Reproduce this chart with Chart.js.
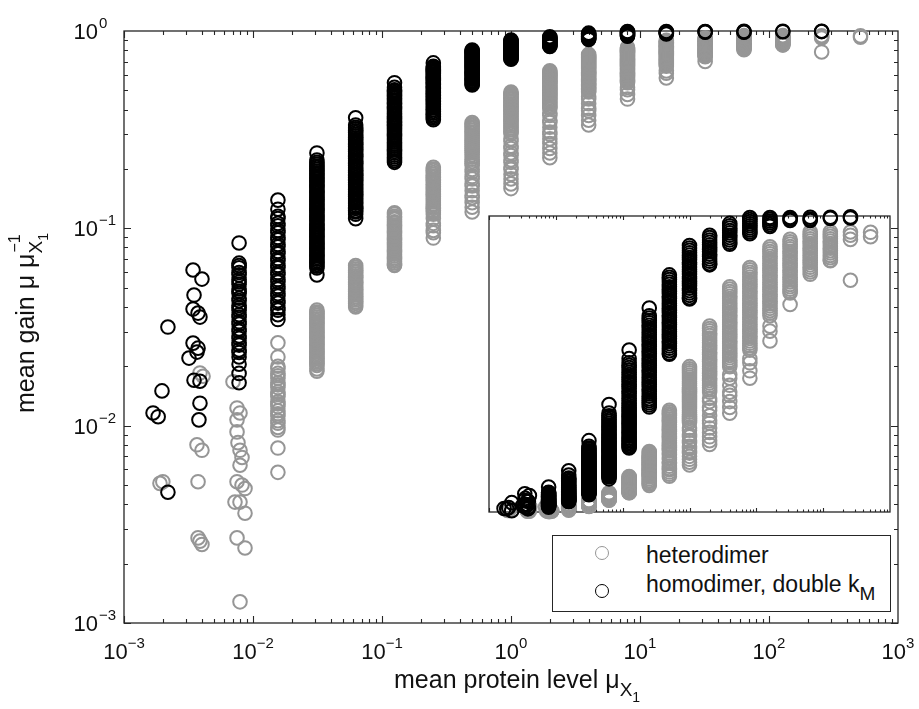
<!DOCTYPE html>
<html>
<head>
<meta charset="utf-8">
<script src="https://cdn.jsdelivr.net/npm/chart.js@4.4.0/dist/chart.umd.min.js"></script>
<style>
  body { margin: 0; background: #fff; }
  #wrap { position: relative; width: 919px; height: 709px; overflow: hidden; background: #fff;
          font-family: "Liberation Sans", Arial, sans-serif; color: #111; }
  canvas { position: absolute; left: 0; top: 0; }
  .title { position: absolute; font-size: 25px; line-height: 25px; white-space: nowrap; }
  #ytitle { left: 13px; top: 413px; transform-origin: 0 0; transform: rotate(-90deg); }
  #xtitle { left: 394px; top: 667px; }
  .ss { position: relative; display: inline-block; }
  .sb { font-size: 19px; position: relative; top: 8px; }
  .sb2 { font-size: 14px; position: relative; top: 6px; }
  .sp { font-size: 16px; position: absolute; left: 1px; top: -11px; }
  #legend { position: absolute; left: 552px; top: 535px; width: 337px; height: 75px;
            border: 1.3px solid #262626; background: #fff; font-size: 23px; }
  .mk { position: absolute; width: 12px; height: 12px; border-radius: 50%; border: 1.6px solid; }
  .lt { position: absolute; left: 93px; white-space: nowrap; line-height: 23px; }
</style>
</head>
<body>
<div id="wrap">
  <canvas id="mainChart" width="919" height="709"></canvas>
  <canvas id="insetChart" width="919" height="709"></canvas>
  <div class="title" id="ytitle">mean gain μ μ<span class="ss"><span class="sb">X<span class="sb2">1</span></span><span class="sp">−1</span></span></div>
  <div class="title" id="xtitle">mean protein level μ<span class="sb">X<span class="sb2">1</span></span></div>
  <div id="legend">
    <div class="mk" style="left:42px; top:10px; border-color:#969696"></div>
    <div class="lt" style="top:8px">heterodimer</div>
    <div class="mk" style="left:42px; top:48px; border-color:#000"></div>
    <div class="lt" style="top:37px">homodimer, double k<span style="font-size:19px; position:relative; top:8px">M</span></div>
  </div>
</div>
<script>
// nominal protein levels (each one doubles the previous)
const levels = [0.00195, 0.0039, 0.0078, 0.0156, 0.0313, 0.0625, 0.125, 0.25, 0.5, 1, 2, 4, 8, 16, 32, 64, 128, 256, 512];

// mean gain, homodimer with double kM, one list per level
const homoGain = [
  [0.0316, 0.0150, 0.0116, 0.0111, 0.0046],
  [0.0615, 0.0553, 0.0459, 0.0390, 0.0372, 0.0355, 0.0262, 0.0247, 0.0236, 0.0220, 0.0170, 0.0168, 0.0130, 0.0107],
  [0.0843, 0.0666, 0.0648, 0.0631, 0.0597, 0.0581, 0.0550, 0.0535, 0.0521, 0.0493, 0.0480, 0.0467, 0.0442, 0.0430, 0.0407, 0.0396, 0.0385,
   0.0365, 0.0355, 0.0336, 0.0327, 0.0309, 0.0301, 0.0285, 0.0277, 0.0263, 0.0256, 0.0242, 0.0235, 0.0223, 0.0205, 0.0184, 0.0165],
  [0.139, 0.125, 0.115, 0.112, 0.106, 0.103, 0.0976, 0.0950, 0.0899, 0.0875, 0.0829, 0.0806, 0.0763, 0.0743, 0.0703, 0.0684, 0.0648,
   0.0631, 0.0597, 0.0581, 0.0550, 0.0535, 0.0507, 0.0493, 0.0467, 0.0454, 0.0430, 0.0418, 0.0396, 0.0385, 0.0365, 0.0345],
  [0.241, 0.222, 0.216, 0.212, 0.207, 0.203, 0.199, 0.195, 0.191, 0.188, 0.184, 0.180, 0.177, 0.173, 0.170, 0.166, 0.163, 0.160, 0.156,
   0.153, 0.150, 0.147, 0.144, 0.141, 0.139, 0.136, 0.133, 0.130, 0.128, 0.125, 0.123, 0.120, 0.118, 0.115, 0.113, 0.111, 0.109, 0.106,
   0.104, 0.102, 0.100, 0.0983, 0.0963, 0.0944, 0.0925, 0.0906, 0.0888, 0.0870, 0.0853, 0.0836, 0.0819, 0.0803, 0.0787, 0.0771, 0.0756,
   0.0740, 0.0726, 0.0711, 0.0697, 0.0683, 0.0669, 0.0656, 0.0643, 0.0630, 0.0581],
  [0.363, 0.334, 0.325, 0.319, 0.312, 0.306, 0.300, 0.294, 0.288, 0.282, 0.277, 0.271, 0.266, 0.260, 0.255, 0.250, 0.245, 0.240, 0.235,
   0.231, 0.226, 0.221, 0.217, 0.213, 0.208, 0.204, 0.200, 0.196, 0.192, 0.188, 0.185, 0.181, 0.177, 0.174, 0.170, 0.167, 0.164, 0.160,
   0.157, 0.154, 0.151, 0.148, 0.145, 0.142, 0.139, 0.136, 0.134, 0.131, 0.128, 0.126, 0.123, 0.121, 0.118, 0.112],
  [0.547, 0.518, 0.504, 0.496, 0.488, 0.480, 0.472, 0.464, 0.456, 0.448, 0.440, 0.432, 0.424, 0.416, 0.408, 0.400, 0.392, 0.384, 0.376,
   0.368, 0.360, 0.352, 0.346, 0.340, 0.334, 0.328, 0.322, 0.316, 0.310, 0.304, 0.298, 0.292, 0.286, 0.280, 0.274, 0.268, 0.262, 0.256,
   0.250, 0.245, 0.240, 0.235, 0.230, 0.225, 0.220, 0.216],
  [0.689, 0.663, 0.655, 0.647, 0.639, 0.631, 0.623, 0.615, 0.607, 0.599, 0.591, 0.583, 0.575, 0.567, 0.559, 0.551, 0.543, 0.535, 0.527,
   0.519, 0.511, 0.503, 0.495, 0.487, 0.479, 0.471, 0.463, 0.455, 0.447, 0.439, 0.431, 0.423, 0.415, 0.407, 0.399, 0.391, 0.383, 0.376,
   0.369, 0.362, 0.355],
  [0.801, 0.793, 0.785, 0.777, 0.769, 0.761, 0.753, 0.745, 0.737, 0.729, 0.721, 0.713, 0.705, 0.697, 0.689, 0.681, 0.673, 0.665, 0.657,
   0.649, 0.641, 0.633, 0.625, 0.617, 0.609, 0.601, 0.593, 0.585, 0.577, 0.569, 0.561, 0.553, 0.545, 0.537, 0.533],
  [0.900, 0.892, 0.884, 0.876, 0.868, 0.860, 0.852, 0.844, 0.836, 0.828, 0.820, 0.812, 0.804, 0.796, 0.788, 0.780, 0.772, 0.764, 0.756,
   0.748, 0.740, 0.732, 0.724, 0.720],
  [0.935, 0.927, 0.919, 0.911, 0.903, 0.895, 0.887, 0.879, 0.871, 0.863, 0.855, 0.847, 0.839, 0.835],
  [0.975, 0.967, 0.959, 0.951, 0.943, 0.935, 0.927, 0.919, 0.911, 0.905],
  [0.995, 0.988, 0.981, 0.974, 0.967, 0.960, 0.953, 0.946, 0.940],
  [0.995, 0.989, 0.983, 0.977, 0.971, 0.965],
  [0.995, 0.990, 0.985],
  [0.996, 0.990, 0.985],
  [0.996, 0.992],
  [0.997, 0.993],
  []
];

// mean gain, heterodimer, one list per level
const heteroGain = [
  [0.0051, 0.0052],
  [0.0185, 0.0178, 0.0080, 0.0075, 0.0052, 0.0027, 0.0026, 0.0025],
  [0.0167, 0.0123, 0.0116, 0.0107, 0.0093, 0.0082, 0.0075, 0.0069, 0.0063, 0.0052, 0.0050, 0.0048, 0.0041, 0.0041, 0.0036, 0.0027, 0.0024, 0.00128],
  [0.0263, 0.0223, 0.0200, 0.0194, 0.0184, 0.0179, 0.0174, 0.0165, 0.0161, 0.0156, 0.0148, 0.0144, 0.0140, 0.0132, 0.0129, 0.0125, 0.0119,
   0.0115, 0.0112, 0.0106, 0.0103, 0.0098, 0.0095, 0.0077, 0.0058],
  [0.0385, 0.0377, 0.0370, 0.0362, 0.0355, 0.0348, 0.0341, 0.0334, 0.0328, 0.0321, 0.0315, 0.0308, 0.0302, 0.0296, 0.0290, 0.0284, 0.0279,
   0.0273, 0.0268, 0.0262, 0.0257, 0.0252, 0.0247, 0.0242, 0.0237, 0.0232, 0.0228, 0.0223, 0.0219, 0.0214, 0.0210, 0.0206, 0.0202, 0.0194,
   0.0189],
  [0.0648, 0.0635, 0.0622, 0.0610, 0.0598, 0.0586, 0.0574, 0.0563, 0.0551, 0.0540, 0.0530, 0.0519, 0.0509, 0.0498, 0.0488, 0.0479, 0.0469,
   0.0460, 0.0450, 0.0441, 0.0433, 0.0424, 0.0416, 0.0407, 0.0399],
  [0.120, 0.118, 0.115, 0.113, 0.111, 0.108, 0.106, 0.104, 0.102, 0.100, 0.0980, 0.0961, 0.0941, 0.0923, 0.0904, 0.0886, 0.0868, 0.0851,
   0.0834, 0.0817, 0.0801, 0.0785, 0.0769, 0.0754, 0.0739, 0.0724, 0.0709, 0.0695, 0.0681, 0.0668, 0.0654, 0.0648],
  [0.204, 0.200, 0.196, 0.192, 0.188, 0.184, 0.181, 0.177, 0.174, 0.170, 0.167, 0.163, 0.160, 0.157, 0.154, 0.151, 0.148, 0.145, 0.142,
   0.139, 0.136, 0.133, 0.131, 0.128, 0.126, 0.123, 0.121, 0.118, 0.112, 0.106, 0.103, 0.0976, 0.0950, 0.0893],
  [0.344, 0.338, 0.332, 0.326, 0.320, 0.314, 0.308, 0.302, 0.296, 0.290, 0.284, 0.278, 0.272, 0.266, 0.260, 0.254, 0.248, 0.242, 0.236,
   0.230, 0.224, 0.218, 0.213, 0.208, 0.199, 0.193, 0.183, 0.178, 0.168, 0.164, 0.155, 0.147, 0.143, 0.135, 0.128, 0.121],
  [0.491, 0.484, 0.477, 0.470, 0.463, 0.456, 0.449, 0.442, 0.435, 0.428, 0.421, 0.414, 0.407, 0.400, 0.393, 0.386, 0.379, 0.372, 0.365,
   0.358, 0.351, 0.344, 0.337, 0.330, 0.323, 0.316, 0.309, 0.302, 0.284, 0.276, 0.261, 0.254, 0.241, 0.234, 0.222, 0.216, 0.204, 0.199,
   0.188, 0.178, 0.168, 0.159],
  [0.628, 0.620, 0.612, 0.604, 0.596, 0.588, 0.580, 0.572, 0.564, 0.556, 0.548, 0.540, 0.532, 0.524, 0.516, 0.508, 0.500, 0.492, 0.484,
   0.476, 0.468, 0.460, 0.452, 0.444, 0.436, 0.428, 0.420, 0.412, 0.405, 0.384, 0.373, 0.353, 0.344, 0.325, 0.308, 0.300, 0.284, 0.269,
   0.254, 0.241, 0.228],
  [0.761, 0.753, 0.745, 0.737, 0.729, 0.721, 0.713, 0.705, 0.697, 0.689, 0.681, 0.673, 0.665, 0.657, 0.649, 0.641, 0.633, 0.625, 0.617,
   0.609, 0.601, 0.593, 0.585, 0.577, 0.569, 0.561, 0.553, 0.545, 0.537, 0.529, 0.521, 0.513, 0.505, 0.497, 0.491, 0.464, 0.452, 0.428,
   0.405, 0.394, 0.373, 0.353, 0.334],
  [0.826, 0.818, 0.810, 0.802, 0.794, 0.786, 0.778, 0.770, 0.762, 0.754, 0.746, 0.738, 0.730, 0.722, 0.714, 0.706, 0.698, 0.690, 0.682,
   0.674, 0.666, 0.658, 0.650, 0.642, 0.634, 0.626, 0.618, 0.610, 0.602, 0.594, 0.586, 0.578, 0.570, 0.562, 0.554, 0.547, 0.518, 0.504,
   0.477, 0.452],
  [0.896, 0.888, 0.880, 0.872, 0.864, 0.856, 0.848, 0.840, 0.832, 0.824, 0.816, 0.808, 0.800, 0.792, 0.784, 0.776, 0.768, 0.760, 0.752,
   0.744, 0.736, 0.728, 0.720, 0.712, 0.704, 0.696, 0.688, 0.680, 0.672, 0.663, 0.628, 0.611, 0.578],
  [0.921, 0.913, 0.905, 0.897, 0.889, 0.881, 0.873, 0.865, 0.857, 0.849, 0.841, 0.833, 0.825, 0.817, 0.809, 0.801, 0.793, 0.785, 0.777,
   0.769, 0.761, 0.753, 0.745, 0.740, 0.701],
  [0.947, 0.939, 0.931, 0.923, 0.915, 0.907, 0.899, 0.891, 0.883, 0.875, 0.867, 0.859, 0.851, 0.843, 0.835, 0.827, 0.819, 0.811, 0.803],
  [0.947, 0.939, 0.931, 0.923, 0.915, 0.907, 0.899, 0.891, 0.883, 0.875, 0.867, 0.859, 0.851, 0.849],
  [0.946, 0.935, 0.921, 0.783],
  [0.945, 0.930]
];

// at the lowest levels the measured protein level scatters around the nominal one
const homoLevelsLow = [
  [0.00219, 0.00197, 0.00168, 0.00184, 0.00219],
  [0.00343, 0.00402, 0.00349, 0.00343, 0.00375, 0.00388, 0.00343, 0.00375, 0.00368, 0.00319, 0.00349, 0.00388, 0.00388, 0.00381]
];
const heteroLevelsLow = [
  [0.00190, 0.00200],
  [0.00388, 0.00410, 0.00368, 0.00402, 0.00375, 0.00375, 0.00388, 0.00402],
  [0.0070, 0.00752, 0.00793, 0.00752, 0.00752, 0.00765, 0.00793, 0.00822, 0.00793, 0.00752, 0.00822, 0.00867, 0.00725, 0.00793, 0.00867,
   0.00752, 0.00867, 0.00793]
];

// axis decades and their exponent labels
const xTickValues = [0.001, 0.01, 0.1, 1, 10, 100, 1000];
const xTickExps = ['−3', '−2', '−1', '0', '1', '2', '3'];
const yTickValues = [0.001, 0.01, 0.1, 1];
const yTickExps = ['−3', '−2', '−1', '0'];

const GRAY = '#969696';
const BLACK = '#000000';
const FONT = '"Liberation Sans", Arial, sans-serif';

function toPoints(gains, lowLevels) {
  const pts = [];
  gains.forEach((col, i) => {
    col.forEach((g, j) => {
      const x = lowLevels[i] ? lowLevels[i][j] : levels[i];
      pts.push({ x: x, y: g });
    });
  });
  return pts;
}

function makeDatasets() {
  return [
    {
      label: 'heterodimer',
      data: toPoints(heteroGain, heteroLevelsLow),
      borderColor: GRAY,
      backgroundColor: 'rgba(0,0,0,0)',
      pointRadius: 6.8,
      pointBorderWidth: 2,
      clip: false,
      order: 2
    },
    {
      label: 'homodimer, double kM',
      data: toPoints(homoGain, homoLevelsLow),
      borderColor: BLACK,
      backgroundColor: 'rgba(0,0,0,0)',
      pointRadius: 6.8,
      pointBorderWidth: 2,
      clip: false,
      order: 1
    }
  ];
}

// box, inward log ticks and 10^n labels, all placed with the chart scales
const logFrame = {
  id: 'logFrame',
  beforeDatasetsDraw(chart, args, opts) {
    const { ctx, chartArea: a, scales } = chart;
    ctx.save();
    ctx.strokeStyle = '#262626';
    ctx.lineWidth = 1.3;
    ctx.strokeRect(a.left, a.top, a.right - a.left, a.bottom - a.top);
    ctx.lineWidth = 1.1;
    const tick = (scale, horizontal) => {
      const lo = Math.round(Math.log10(scale.min));
      const hi = Math.round(Math.log10(scale.max));
      for (let e = lo; e < hi; e++) {
        for (let m = 1; m <= 9; m++) {
          const v = m * Math.pow(10, e);
          const p = Math.round(scale.getPixelForValue(v)) + 0.5;
          const len = m === 1 ? opts.major : opts.minor;
          ctx.beginPath();
          if (horizontal) {
            ctx.moveTo(p, a.bottom); ctx.lineTo(p, a.bottom - len);
            ctx.moveTo(p, a.top); ctx.lineTo(p, a.top + len);
          } else {
            ctx.moveTo(a.left, p); ctx.lineTo(a.left + len, p);
            ctx.moveTo(a.right, p); ctx.lineTo(a.right - len, p);
          }
          ctx.stroke();
        }
      }
    };
    tick(scales.x, true);
    if (opts.yTicks) tick(scales.y, false);
    ctx.restore();
  },
  afterDraw(chart, args, opts) {
    if (!opts.labels) return;
    const { ctx, scales } = chart;
    ctx.save();
    ctx.fillStyle = '#111';
    ctx.textBaseline = 'alphabetic';
    const big = '22px ' + FONT, small = '15px ' + FONT;
    xTickValues.forEach((v, i) => {
      const px = scales.x.getPixelForValue(v);
      ctx.font = big; const w10 = ctx.measureText('10').width;
      ctx.font = small; const we = ctx.measureText(xTickExps[i]).width;
      const start = px - (w10 + we) / 2;
      ctx.font = big; ctx.textAlign = 'left'; ctx.fillText('10', start, 659);
      ctx.font = small; ctx.fillText(xTickExps[i], start + w10, 648);
    });
    yTickValues.forEach((v, i) => {
      const py = scales.y.getPixelForValue(v);
      ctx.font = big; ctx.textAlign = 'right'; ctx.fillText('10', 98, py + 8);
      ctx.font = small; ctx.textAlign = 'left'; ctx.fillText(yTickExps[i], 99, py - 3);
    });
    ctx.restore();
  }
};

Chart.register(logFrame);

const commonOptions = {
  responsive: false,
  animation: false,
  events: [],
  plugins: { legend: { display: false }, tooltip: { enabled: false } }
};

new Chart(document.getElementById('mainChart'), {
  type: 'scatter',
  data: { datasets: makeDatasets() },
  options: Object.assign({}, commonOptions, {
    layout: { padding: { left: 124, right: 21, top: 31, bottom: 86 } },
    scales: {
      x: { type: 'logarithmic', min: 0.001, max: 1000, display: false },
      y: { type: 'logarithmic', min: 0.001, max: 1, display: false }
    },
    plugins: Object.assign({}, commonOptions.plugins, {
      logFrame: { major: 7, minor: 4, yTicks: true, labels: true }
    })
  })
});

// inset: same data, linear gain axis
new Chart(document.getElementById('insetChart'), {
  type: 'scatter',
  data: { datasets: makeDatasets() },
  options: Object.assign({}, commonOptions, {
    layout: { padding: { left: 489, right: 29, top: 216, bottom: 197 } },
    scales: {
      x: { type: 'logarithmic', min: 0.001, max: 1000, display: false },
      y: { type: 'linear', min: 0, max: 1, display: false }
    },
    plugins: Object.assign({}, commonOptions.plugins, {
      logFrame: { major: 4, minor: 2.5, yTicks: false, labels: false }
    })
  })
});
</script>
</body>
</html>
